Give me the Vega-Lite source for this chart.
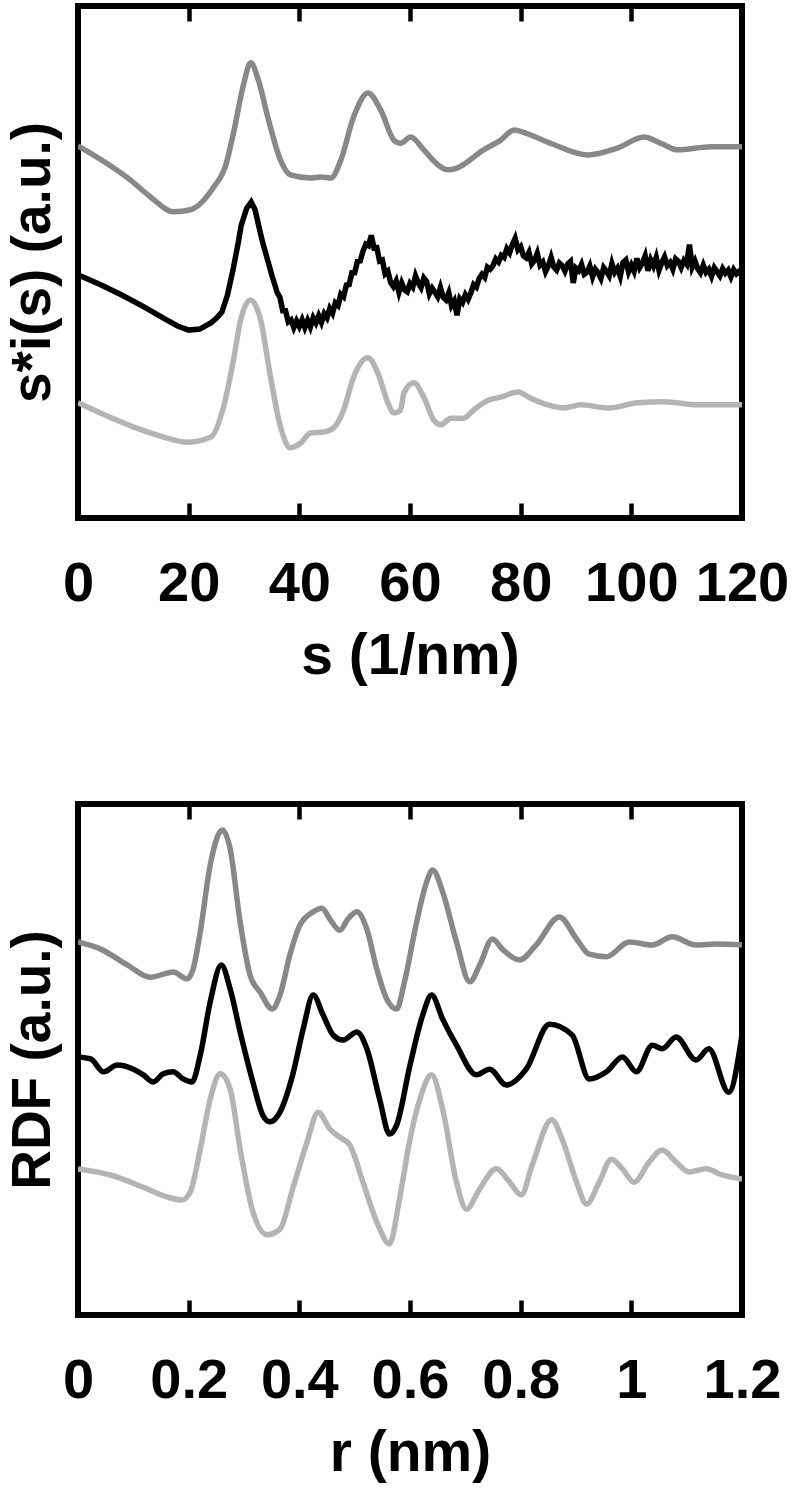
{
  "$schema": "https://vega.github.io/schema/vega-lite/v6.json",
  "padding": {"left": 2, "top": 0, "right": 0, "bottom": 0},
  "spacing": 111,
  "config": {
    "view": {"stroke": "black", "strokeWidth": 6},
    "font": "Liberation Sans",
    "axis": {"grid": false}
  },
  "datasets": {
    "topGray": [
      {"s":0,"v":72.7},{"s":9.5,"v":66.0},{"s":13.1,"v":62.7},{"s":17.3,"v":59.8},{"s":20.3,"v":60.2},{"s":24.5,"v":64.6},{"s":26.7,"v":68.9},{"s":28.1,"v":75.2},{"s":29.9,"v":84.6},{"s":31.2,"v":88.9},{"s":32.6,"v":85.5},{"s":34.3,"v":78.3},{"s":36.6,"v":69.9},{"s":38.4,"v":67.0},{"s":42.0,"v":66.4},{"s":43.9,"v":66.6},{"s":45.7,"v":66.4},{"s":47.5,"v":69.9},{"s":49.8,"v":78.3},{"s":52.4,"v":83.0},{"s":54.7,"v":79.7},{"s":57.1,"v":73.8},{"s":58.3,"v":73.2},{"s":60.1,"v":74.4},{"s":62.5,"v":71.9},{"s":64.7,"v":69.3},{"s":66.8,"v":68.0},{"s":68.6,"v":68.4},{"s":73.3,"v":71.9},{"s":76.4,"v":73.8},{"s":78.8,"v":75.8},{"s":81.8,"v":74.8},{"s":85.4,"v":73.2},{"s":92.1,"v":70.9},{"s":97.6,"v":72.3},{"s":102.3,"v":74.4},{"s":105.3,"v":73.2},{"s":108.4,"v":71.9},{"s":114.4,"v":72.5},{"s":120,"v":72.5}
    ],
    "topBlack": [
      {"s":0,"v":47.5},{"s":4,"v":45.6},{"s":8,"v":43.5},{"s":12,"v":41.2},{"s":16,"v":38.7},{"s":18,"v":37.5},{"s":20,"v":36.7},{"s":22,"v":36.9},{"s":24,"v":38.1},{"s":25,"v":39.0},{"s":26,"v":40.2},{"s":27,"v":43.5},{"s":28,"v":48.4},{"s":29,"v":54.0},{"s":29.5,"v":57.2},{"s":30.5,"v":60.5},{"s":31.3,"v":61.7},{"s":32,"v":60.2},{"s":33,"v":55.5},{"s":33.5,"v":53.3},{"s":34.5,"v":49.5},{"s":35,"v":47.5},{"s":35.5,"v":45.8},
      {"s":36,"v":44.0},{"s":36.5,"v":43.1},{"s":37,"v":40.5},{"s":37.5,"v":40.5},{"s":38,"v":38.3},{"s":38.5,"v":38.7},{"s":39,"v":37.2},{"s":39.5,"v":38.5},{"s":40,"v":37.4},{"s":40.5,"v":38.7},{"s":41,"v":37.2},{"s":41.5,"v":38.6},{"s":42,"v":37.3},{"s":42.5,"v":39.1},{"s":43,"v":38.1},{"s":43.5,"v":39.5},{"s":44,"v":38.2},{"s":44.5,"v":39.9},{"s":45,"v":39.1},{"s":45.5,"v":40.9},{"s":46,"v":40.0},{"s":46.5,"v":42.0},{"s":47,"v":41.5},{"s":47.5,"v":43.7},{"s":48,"v":43.2},{"s":48.5,"v":45.5},{"s":49,"v":45.6},{"s":49.5,"v":47.9},{"s":50,"v":47.9},{"s":50.5,"v":50.1},{"s":51,"v":50.2},{"s":51.5,"v":52.1},{"s":52,"v":53.5},{"s":52.5,"v":53.2},{"s":53,"v":55.2},{"s":53.5,"v":52.7},{"s":54,"v":52.8},{"s":54.5,"v":50.2},{"s":55,"v":50.4},{"s":55.5,"v":47.7},
      {"s":56,"v":48.2},{"s":56.5,"v":46.0},{"s":57,"v":45.2},{"s":57.5,"v":46.3},{"s":58,"v":44.1},{"s":58.5,"v":45.9},{"s":59,"v":44.6},{"s":59.5,"v":44.2},{"s":60,"v":45.8},{"s":60.5,"v":45.1},{"s":61,"v":47.3},{"s":61.5,"v":45.9},{"s":62,"v":45.0},{"s":62.5,"v":46.9},{"s":63,"v":46.2},{"s":63.5,"v":43.8},{"s":64,"v":44.9},{"s":64.5,"v":44.1},{"s":65,"v":43.2},{"s":65.5,"v":45.0},{"s":66,"v":43.1},{"s":66.5,"v":42.6},{"s":67,"v":44.0},{"s":67.5,"v":41.5},{"s":68,"v":42.4},{"s":68.5,"v":39.6},{"s":69,"v":42.8},{"s":69.5,"v":42.1},{"s":70,"v":43.6},{"s":70.5,"v":42.7},{"s":71,"v":44.0},{"s":71.5,"v":45.6},{"s":72,"v":45.1},{"s":72.5,"v":46.8},{"s":73,"v":47.6},{"s":73.5,"v":47.0},{"s":74,"v":49.0},{"s":74.5,"v":48.6},{"s":75,"v":49.3},{"s":75.5,"v":50.6},{"s":76,"v":50.0},{"s":76.5,"v":51.3},{"s":77,"v":50.9},{"s":77.5,"v":52.6},{"s":78,"v":51.8},{"s":78.5,"v":53.4},{"s":79,"v":54.6},{"s":79.5,"v":52.4},{"s":80,"v":53.0},{"s":80.5,"v":51.2},{"s":81,"v":50.8},{"s":81.5,"v":51.9},{"s":82,"v":49.6},{"s":82.5,"v":50.3},{"s":83,"v":51.7},{"s":83.5,"v":49.4},{"s":84,"v":50.0},{"s":84.5,"v":48.1},{"s":85,"v":49.2},{"s":85.5,"v":50.9},{"s":86,"v":49.0},{"s":86.5,"v":48.4},{"s":87,"v":49.8},{"s":87.5,"v":49.3},{"s":88,"v":48.2},{"s":88.5,"v":49.6},{"s":89,"v":50.1},{"s":89.5,"v":45.9},{"s":90,"v":48.8},{"s":90.5,"v":48.3},{"s":91,"v":49.5},{"s":91.5,"v":47.6},{"s":92,"v":48.0},{"s":92.5,"v":49.2},{"s":93,"v":47.1},{"s":93.5,"v":48.6},{"s":94,"v":47.9},{"s":94.5,"v":46.8},{"s":95,"v":48.9},{"s":95.5,"v":48.2},{"s":96,"v":47.3},{"s":96.5,"v":49.7},{"s":97,"v":48.0},{"s":97.5,"v":48.8},{"s":98,"v":47.2},{"s":98.5,"v":49.9},{"s":99,"v":50.4},{"s":99.5,"v":48.1},{"s":100,"v":49.4},{"s":100.5,"v":48.2},{"s":101,"v":50.7},{"s":101.5,"v":48.9},{"s":102,"v":49.8},{"s":102.5,"v":51.2},{"s":103,"v":48.3},{"s":103.5,"v":50.4},{"s":104,"v":49.2},{"s":104.5,"v":50.9},{"s":105,"v":48.4},{"s":105.5,"v":49.9},{"s":106,"v":51.0},{"s":106.5,"v":49.3},{"s":107,"v":49.9},{"s":107.5,"v":48.6},{"s":108,"v":50.6},{"s":108.5,"v":50.1},{"s":109,"v":48.9},{"s":109.5,"v":50.3},{"s":110,"v":49.6},{"s":110.5,"v":53.4},{"s":111,"v":49.0},{"s":111.5,"v":50.2},{"s":112,"v":48.7},{"s":112.5,"v":47.9},{"s":113,"v":49.4},{"s":113.5,"v":48.0},{"s":114,"v":48.6},{"s":114.5,"v":47.2},{"s":115,"v":48.9},{"s":115.5,"v":48.1},{"s":116,"v":47.3},{"s":116.5,"v":48.7},{"s":117,"v":47.8},{"s":117.5,"v":48.4},{"s":118,"v":47.1},{"s":118.5,"v":48.5},{"s":119,"v":47.7},{"s":119.5,"v":48.2},{"s":120,"v":47.3}
    ],
    "topLight": [
      {"s":0,"v":22.5},{"s":10.0,"v":17.8},{"s":14.9,"v":16.0},{"s":19.8,"v":14.8},{"s":24.0,"v":15.8},{"s":26.3,"v":21.7},{"s":28.1,"v":30.9},{"s":29.4,"v":38.7},{"s":31.2,"v":42.6},{"s":33.0,"v":38.7},{"s":34.8,"v":27.5},{"s":36.6,"v":17.8},{"s":38.4,"v":13.7},{"s":40.2,"v":14.6},{"s":42.0,"v":16.6},{"s":44.4,"v":16.8},{"s":46.2,"v":17.6},{"s":48.0,"v":21.1},{"s":49.8,"v":27.5},{"s":52.4,"v":31.3},{"s":54.2,"v":28.3},{"s":56.0,"v":22.5},{"s":57.1,"v":20.5},{"s":58.3,"v":21.1},{"s":58.9,"v":24.4},{"s":60.7,"v":26.4},{"s":62.5,"v":23.6},{"s":64.3,"v":19.1},{"s":65.6,"v":18.2},{"s":67.4,"v":19.5},{"s":69.7,"v":19.5},{"s":71.5,"v":21.1},{"s":74.1,"v":23.0},{"s":76.4,"v":23.6},{"s":79.5,"v":24.6},{"s":81.8,"v":23.4},{"s":84.9,"v":22.1},{"s":87.8,"v":21.5},{"s":90.9,"v":22.1},{"s":95.8,"v":21.5},{"s":101.2,"v":22.5},{"s":105.9,"v":22.7},{"s":112.0,"v":22.1},{"s":120,"v":22.1}
    ],
    "botGray": [
      {"r":0,"v":73.0},{"r":0.041,"v":71.6},{"r":0.089,"v":68.5},{"r":0.131,"v":66.1},{"r":0.161,"v":66.9},{"r":0.172,"v":67.1},{"r":0.197,"v":65.8},{"r":0.208,"v":67.7},{"r":0.221,"v":75.0},{"r":0.239,"v":88.1},{"r":0.261,"v":94.9},{"r":0.275,"v":91.2},{"r":0.293,"v":76.9},{"r":0.311,"v":66.5},{"r":0.329,"v":63.2},{"r":0.351,"v":59.9},{"r":0.365,"v":62.6},{"r":0.383,"v":70.5},{"r":0.401,"v":76.3},{"r":0.425,"v":78.9},{"r":0.441,"v":79.6},{"r":0.455,"v":77.5},{"r":0.473,"v":75.3},{"r":0.488,"v":77.5},{"r":0.504,"v":78.9},{"r":0.522,"v":75.5},{"r":0.540,"v":67.7},{"r":0.558,"v":61.8},{"r":0.576,"v":59.9},{"r":0.590,"v":65.2},{"r":0.612,"v":76.9},{"r":0.630,"v":84.7},{"r":0.641,"v":87.1},{"r":0.659,"v":82.8},{"r":0.684,"v":73.0},{"r":0.708,"v":65.2},{"r":0.726,"v":68.5},{"r":0.749,"v":73.6},{"r":0.767,"v":71.6},{"r":0.798,"v":69.5},{"r":0.828,"v":72.4},{"r":0.870,"v":77.9},{"r":0.901,"v":73.6},{"r":0.924,"v":70.6},{"r":0.955,"v":70.1},{"r":0.996,"v":73.0},{"r":1.038,"v":72.4},{"r":1.074,"v":74.0},{"r":1.117,"v":72.4},{"r":1.153,"v":72.6},{"r":1.2,"v":72.4}
    ],
    "botBlack": [
      {"r":0,"v":50.5},{"r":0.023,"v":50.1},{"r":0.046,"v":47.6},{"r":0.071,"v":48.9},{"r":0.100,"v":48.1},{"r":0.118,"v":47.0},{"r":0.136,"v":45.6},{"r":0.154,"v":47.2},{"r":0.172,"v":47.6},{"r":0.190,"v":46.2},{"r":0.206,"v":45.6},{"r":0.221,"v":50.9},{"r":0.239,"v":61.3},{"r":0.259,"v":68.5},{"r":0.275,"v":63.8},{"r":0.293,"v":55.4},{"r":0.316,"v":45.6},{"r":0.334,"v":39.1},{"r":0.347,"v":37.8},{"r":0.365,"v":39.7},{"r":0.388,"v":47.0},{"r":0.407,"v":56.0},{"r":0.425,"v":62.6},{"r":0.443,"v":58.7},{"r":0.461,"v":54.8},{"r":0.479,"v":53.8},{"r":0.504,"v":55.4},{"r":0.522,"v":52.1},{"r":0.545,"v":42.3},{"r":0.563,"v":35.4},{"r":0.576,"v":37.2},{"r":0.600,"v":48.9},{"r":0.623,"v":58.7},{"r":0.639,"v":62.6},{"r":0.659,"v":57.9},{"r":0.684,"v":52.8},{"r":0.720,"v":47.0},{"r":0.744,"v":48.1},{"r":0.774,"v":45.0},{"r":0.810,"v":48.1},{"r":0.852,"v":56.9},{"r":0.893,"v":54.8},{"r":0.924,"v":46.2},{"r":0.955,"v":47.6},{"r":0.984,"v":50.5},{"r":1.009,"v":47.6},{"r":1.038,"v":52.8},{"r":1.056,"v":52.1},{"r":1.081,"v":54.4},{"r":1.117,"v":49.9},{"r":1.140,"v":52.1},{"r":1.176,"v":43.6},{"r":1.2,"v":54.8}
    ],
    "botLight": [
      {"r":0,"v":28.6},{"r":0.059,"v":27.4},{"r":0.118,"v":25.0},{"r":0.161,"v":23.1},{"r":0.188,"v":22.5},{"r":0.203,"v":24.1},{"r":0.221,"v":32.5},{"r":0.239,"v":42.3},{"r":0.257,"v":47.2},{"r":0.275,"v":44.2},{"r":0.293,"v":32.5},{"r":0.316,"v":20.2},{"r":0.342,"v":15.7},{"r":0.365,"v":16.8},{"r":0.388,"v":24.7},{"r":0.414,"v":33.9},{"r":0.434,"v":39.7},{"r":0.455,"v":36.4},{"r":0.473,"v":34.8},{"r":0.491,"v":33.3},{"r":0.515,"v":26.0},{"r":0.540,"v":18.2},{"r":0.563,"v":13.9},{"r":0.581,"v":22.7},{"r":0.600,"v":34.4},{"r":0.618,"v":42.3},{"r":0.639,"v":47.0},{"r":0.659,"v":40.3},{"r":0.684,"v":26.0},{"r":0.702,"v":20.7},{"r":0.726,"v":24.7},{"r":0.756,"v":28.6},{"r":0.780,"v":26.0},{"r":0.801,"v":23.5},{"r":0.821,"v":29.4},{"r":0.856,"v":38.2},{"r":0.875,"v":34.4},{"r":0.901,"v":26.0},{"r":0.919,"v":21.7},{"r":0.942,"v":26.0},{"r":0.964,"v":30.5},{"r":0.984,"v":28.6},{"r":1.005,"v":26.0},{"r":1.032,"v":29.9},{"r":1.056,"v":32.3},{"r":1.081,"v":29.9},{"r":1.104,"v":28.0},{"r":1.135,"v":28.6},{"r":1.164,"v":27.4},{"r":1.2,"v":26.6}
    ]
  },
  "vconcat": [
    {
      "width": 664,
      "height": 512,
      "resolve": {"axis": {"x": "independent"}},
      "layer": [
        {
          "data": {"name": "topGray"},
          "mark": {"type": "line", "color": "#888888", "strokeWidth": 5.5, "interpolate": "monotone", "clip": true},
          "encoding": {
            "x": {"field": "s", "type": "quantitative", "scale": {"domain": [0, 120], "nice": false, "zero": false},
              "axis": {"orient": "bottom", "title": "s (1/nm)", "values": [0, 20, 40, 60, 80, 100, 120], "domain": false, "tickSize": -15, "tickWidth": 4.5, "tickColor": "black", "labelPadding": 53, "labelFontSize": 56, "labelFontWeight": "bold", "labelColor": "black", "labelFlush": false, "labelOverlap": false, "titleFontSize": 57, "titleFontWeight": "bold", "titleColor": "black", "titlePadding": 17}},
            "y": {"field": "v", "type": "quantitative", "scale": {"domain": [0, 100], "nice": false},
              "axis": {"title": "s*i(s) (a.u.)", "labels": false, "ticks": false, "domain": false, "titleFontSize": 55, "titleFontWeight": "bold", "titleColor": "black", "titlePadding": 17}}
          }
        },
        {
          "data": {"name": "topBlack"},
          "mark": {"type": "line", "color": "#000000", "strokeWidth": 5.5, "interpolate": "linear", "clip": true},
          "encoding": {
            "x": {"field": "s", "type": "quantitative",
              "axis": {"orient": "top", "title": null, "labels": false, "values": [20, 40, 60, 80, 100], "domain": false, "tickSize": -15, "tickWidth": 4.5, "tickColor": "black"}},
            "y": {"field": "v", "type": "quantitative",
              "axis": {"title": "s*i(s) (a.u.)", "labels": false, "ticks": false, "domain": false, "titleFontSize": 55, "titleFontWeight": "bold", "titleColor": "black", "titlePadding": 17}}
          }
        },
        {
          "data": {"name": "topLight"},
          "mark": {"type": "line", "color": "#b4b4b4", "strokeWidth": 5.5, "interpolate": "monotone", "clip": true},
          "encoding": {
            "x": {"field": "s", "type": "quantitative", "axis": null},
            "y": {"field": "v", "type": "quantitative",
              "axis": {"title": "s*i(s) (a.u.)", "labels": false, "ticks": false, "domain": false, "titleFontSize": 55, "titleFontWeight": "bold", "titleColor": "black", "titlePadding": 17}}
          }
        }
      ]
    },
    {
      "width": 664,
      "height": 511,
      "resolve": {"axis": {"x": "independent"}},
      "layer": [
        {
          "data": {"name": "botGray"},
          "mark": {"type": "line", "color": "#888888", "strokeWidth": 5.5, "interpolate": "monotone", "clip": true},
          "encoding": {
            "x": {"field": "r", "type": "quantitative", "scale": {"domain": [0, 1.2], "nice": false, "zero": false},
              "axis": {"orient": "bottom", "title": "r (nm)", "values": [0, 0.2, 0.4, 0.6, 0.8, 1, 1.2], "format": "~g", "domain": false, "tickSize": -15, "tickWidth": 4.5, "tickColor": "black", "labelPadding": 53, "labelFontSize": 56, "labelFontWeight": "bold", "labelColor": "black", "labelFlush": false, "labelOverlap": false, "titleFontSize": 57, "titleFontWeight": "bold", "titleColor": "black", "titlePadding": 17}},
            "y": {"field": "v", "type": "quantitative", "scale": {"domain": [0, 100], "nice": false},
              "axis": {"title": "RDF (a.u.)", "labels": false, "ticks": false, "domain": false, "titleFontSize": 55, "titleFontWeight": "bold", "titleColor": "black", "titlePadding": 17}}
          }
        },
        {
          "data": {"name": "botBlack"},
          "mark": {"type": "line", "color": "#000000", "strokeWidth": 5.5, "interpolate": "monotone", "clip": true},
          "encoding": {
            "x": {"field": "r", "type": "quantitative",
              "axis": {"orient": "top", "title": null, "labels": false, "values": [0.2, 0.4, 0.6, 0.8, 1], "domain": false, "tickSize": -15, "tickWidth": 4.5, "tickColor": "black"}},
            "y": {"field": "v", "type": "quantitative",
              "axis": {"title": "RDF (a.u.)", "labels": false, "ticks": false, "domain": false, "titleFontSize": 55, "titleFontWeight": "bold", "titleColor": "black", "titlePadding": 17}}
          }
        },
        {
          "data": {"name": "botLight"},
          "mark": {"type": "line", "color": "#b4b4b4", "strokeWidth": 5.5, "interpolate": "monotone", "clip": true},
          "encoding": {
            "x": {"field": "r", "type": "quantitative", "axis": null},
            "y": {"field": "v", "type": "quantitative",
              "axis": {"title": "RDF (a.u.)", "labels": false, "ticks": false, "domain": false, "titleFontSize": 55, "titleFontWeight": "bold", "titleColor": "black", "titlePadding": 17}}
          }
        }
      ]
    }
  ]
}
